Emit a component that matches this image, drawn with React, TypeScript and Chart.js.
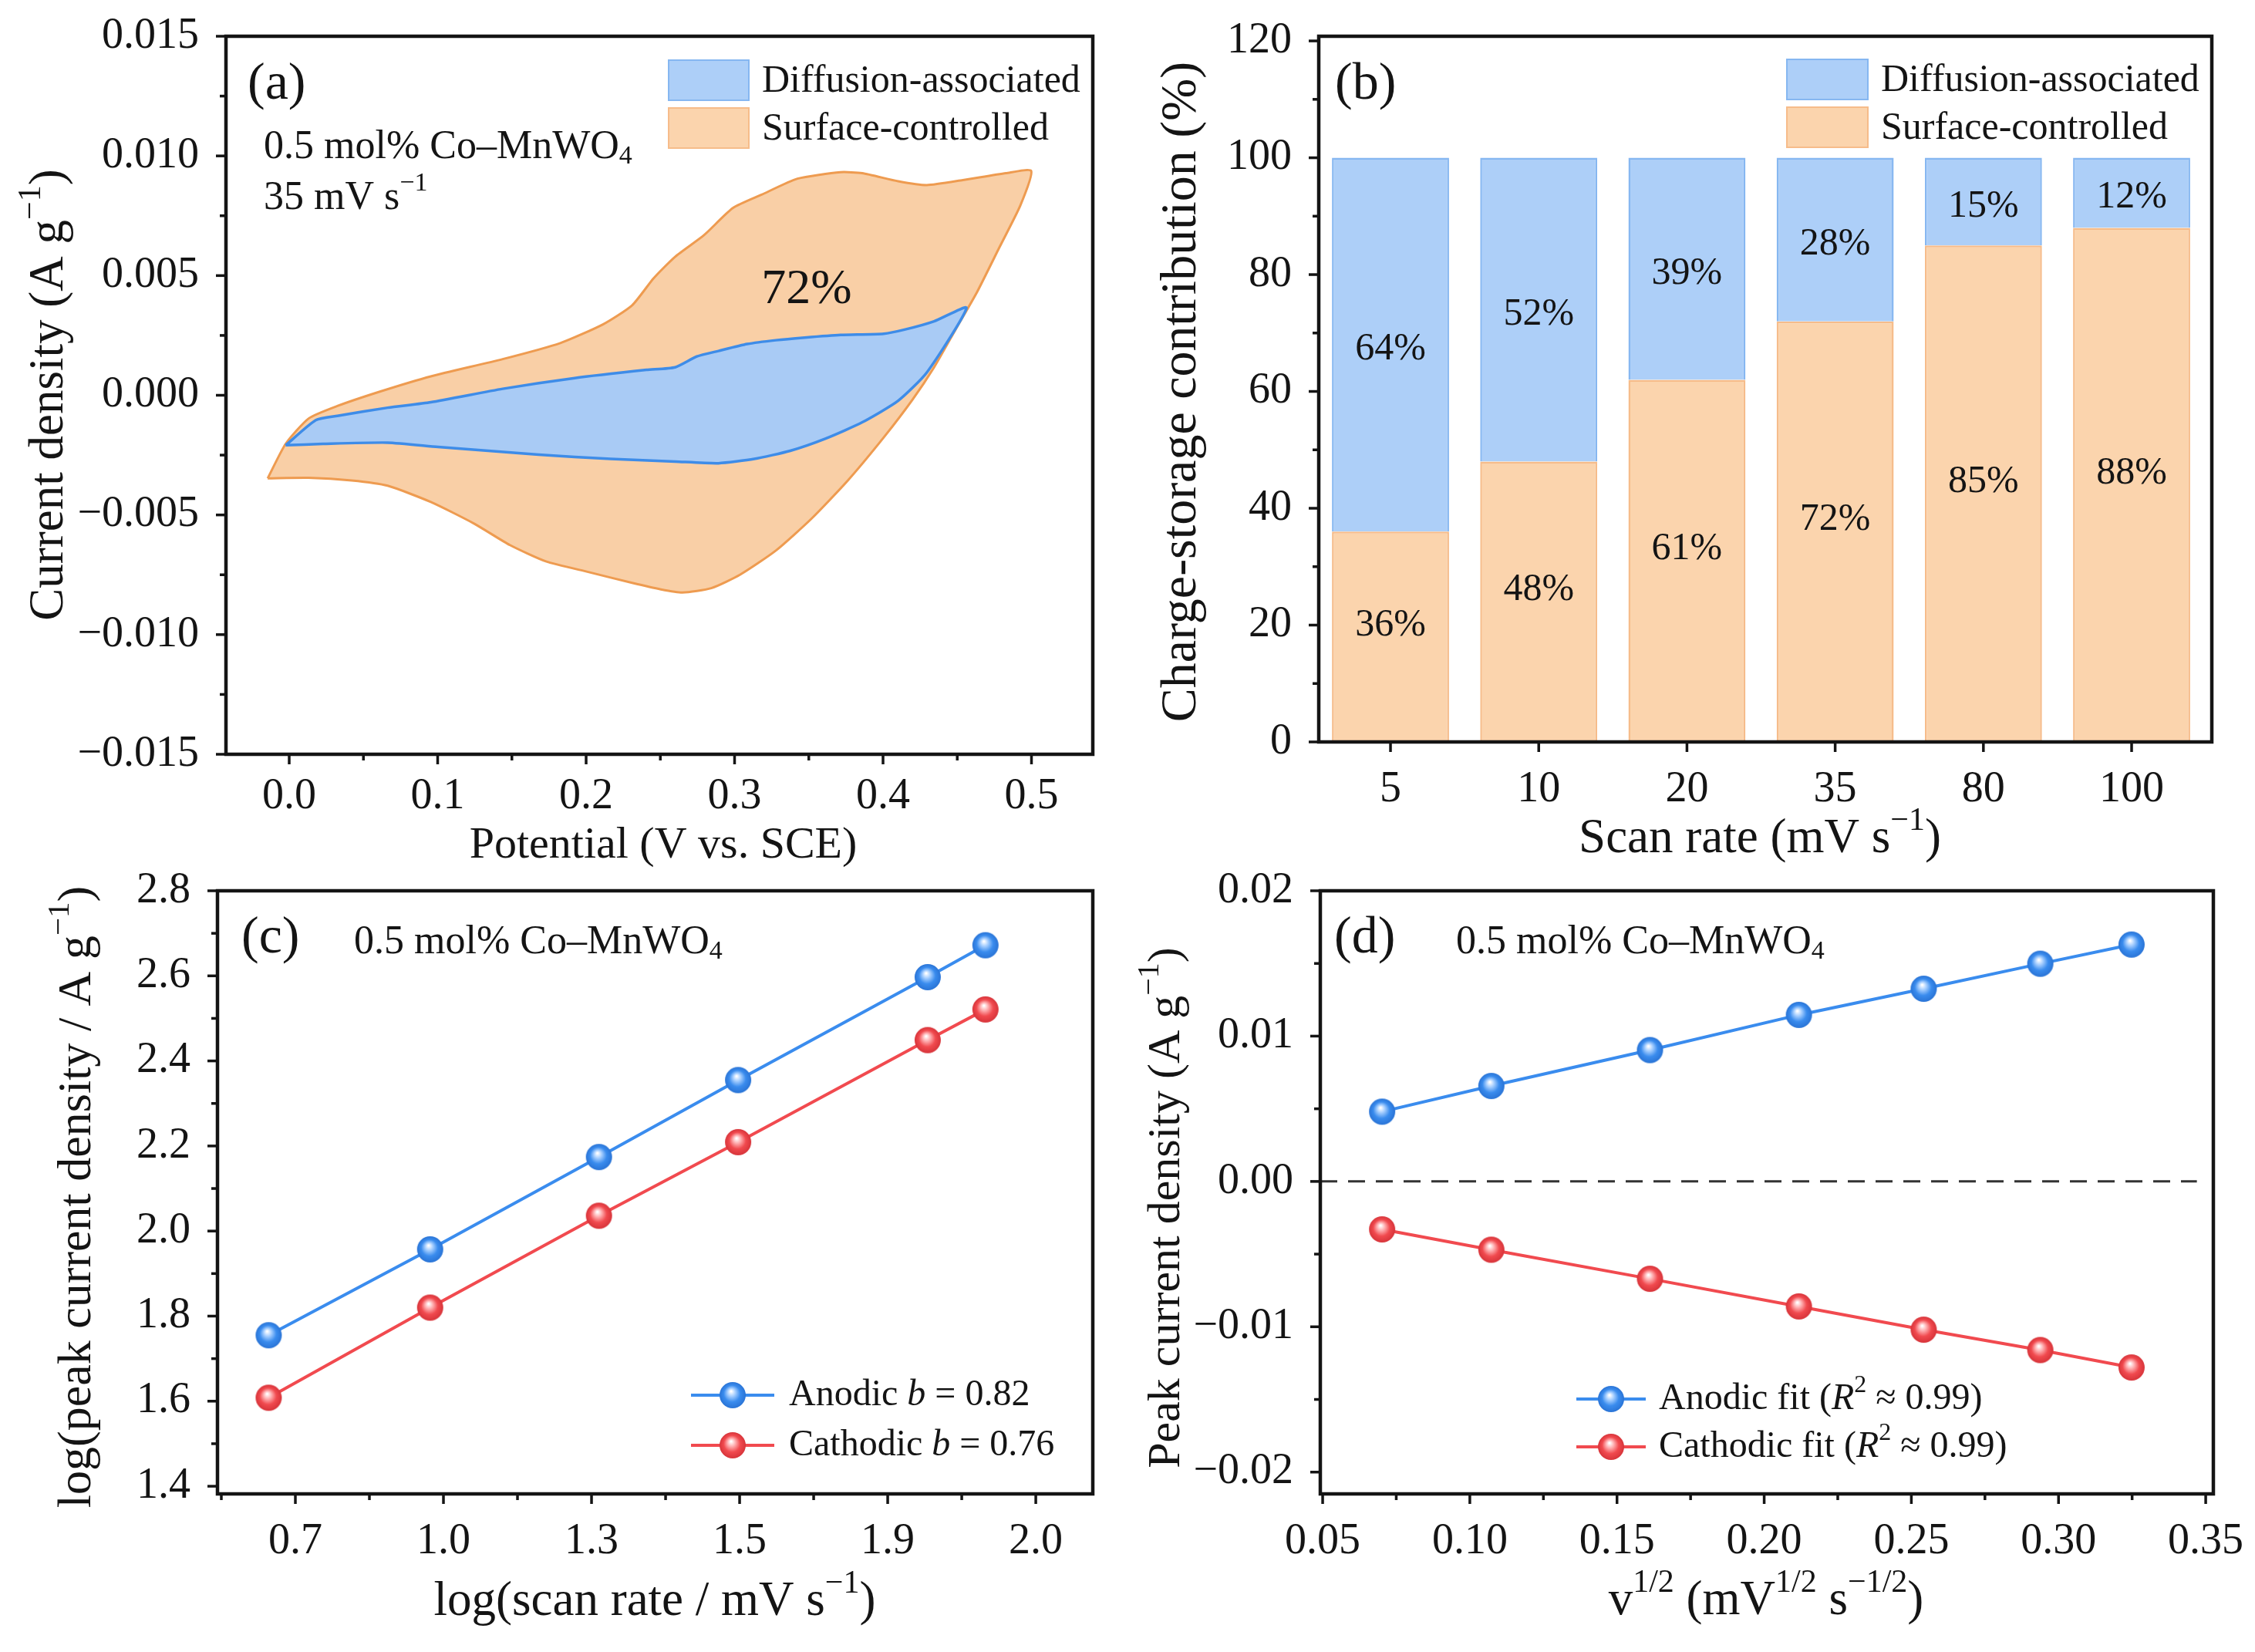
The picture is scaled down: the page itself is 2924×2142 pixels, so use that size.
import React, { useEffect, useRef } from "react";
import { Chart, registerables } from "chart.js";

Chart.register(...registerables);

const FONT = '"Liberation Serif", "Times New Roman", "DejaVu Serif", serif';
const INK = "#141414";

// ---------------- Panel (a): CV separation at 35 mV/s ----------------
const cvSurfaceV = [-0.0145, -0.0024, 0.0131, 0.0324, 0.0615, 0.0954, 0.1438, 0.1826, 0.2116, 0.231, 0.2455, 0.26, 0.2794, 0.2988, 0.3182, 0.3424, 0.3714, 0.386, 0.4102, 0.4295, 0.4538, 0.4828, 0.4998, 0.4925, 0.478, 0.4634, 0.4489, 0.4344, 0.4199, 0.4005, 0.3763, 0.3521, 0.3278, 0.3036, 0.2843, 0.2649, 0.2504, 0.231, 0.2019, 0.1729, 0.1487, 0.1245, 0.0954, 0.0663, 0.0421, 0.0131, -0.0145];
const cvSurfaceI = [-0.00347, -0.00203, -0.00097, -0.00045, 0.00016, 0.00079, 0.00151, 0.00218, 0.00297, 0.00376, 0.00489, 0.00579, 0.00669, 0.00782, 0.00838, 0.00905, 0.00932, 0.00928, 0.00894, 0.00878, 0.00899, 0.00928, 0.00937, 0.00793, 0.00613, 0.00432, 0.00275, 0.00117, -0.00018, -0.00176, -0.00356, -0.00514, -0.00649, -0.0075, -0.00806, -0.00824, -0.00811, -0.00784, -0.00739, -0.00694, -0.00626, -0.00536, -0.00446, -0.00378, -0.00356, -0.00345, -0.00347];
const cvDiffV = [-0.0024, 0.0179, 0.0324, 0.0663, 0.0954, 0.1438, 0.1923, 0.2407, 0.26, 0.2746, 0.2891, 0.3085, 0.3278, 0.3472, 0.3714, 0.4005, 0.415, 0.4344, 0.4562, 0.4295, 0.4102, 0.386, 0.3617, 0.3375, 0.3133, 0.2891, 0.26, 0.2165, 0.168, 0.1002, 0.0663, 0.0228, -0.0024];
const cvDiffI = [-0.00209, -0.00104, -0.00086, -0.00052, -0.00029, 0.00027, 0.00072, 0.00106, 0.00117, 0.00162, 0.00185, 0.00214, 0.0023, 0.00241, 0.00252, 0.00257, 0.00275, 0.00309, 0.00365, 0.00095, -0.00023, -0.00113, -0.0018, -0.00232, -0.00266, -0.00284, -0.00277, -0.00266, -0.00248, -0.00216, -0.00198, -0.00203, -0.00209];
const cvXTicks = [0, 0.1, 0.2, 0.3, 0.4, 0.5];
const cvXMinor = [0.05, 0.15, 0.25, 0.35, 0.45];
const cvYTicks = [-0.015, -0.01, -0.005, 0, 0.005, 0.01, 0.015];
const cvYMinor = [-0.0125, -0.0075, -0.0025, 0.0025, 0.0075, 0.0125];

// ---------------- Panel (b): contribution bars ----------------
const scanRates = ["5", "10", "20", "35", "80", "100"];
const surfacePct = [36, 48, 62, 72, 85, 88];
const diffusionPct = [64, 52, 38, 28, 15, 12];
const surfaceLabels = ["36%", "48%", "61%", "72%", "85%", "88%"];
const diffusionLabels = ["64%", "52%", "39%", "28%", "15%", "12%"];
const pctTicks = [0, 20, 40, 60, 80, 100, 120];
const pctMinor = [10, 30, 50, 70, 90, 110];

// ---------------- Panel (c): log–log b-value ----------------
const logRateTickLabels = ["0.7", "1.0", "1.3", "1.5", "1.9", "2.0"];
const logRateTickPos = [0, 1, 2, 3, 4, 5];
const logRateMinor = [-0.5, 0.5, 1.5, 2.5, 3.5, 4.5];
const logRatePos = [-0.18, 0.91, 2.05, 2.99, 4.27, 4.66];
const logAnodic = [1.755, 1.957, 2.174, 2.355, 2.597, 2.672];
const logCathodic = [1.608, 1.82, 2.036, 2.209, 2.449, 2.521];
const logYTicks = [1.4, 1.6, 1.8, 2.0, 2.2, 2.4, 2.6, 2.8];
const logYMinor = [1.5, 1.7, 1.9, 2.1, 2.3, 2.5, 2.7];

// ---------------- Panel (d): peak current vs v^1/2 ----------------
const sqrtRate = [0.0702, 0.1073, 0.1612, 0.2118, 0.2542, 0.2938, 0.3248];
const peakAnodic = [0.0048, 0.00657, 0.00904, 0.01146, 0.01326, 0.01498, 0.0163];
const peakCathodic = [-0.0033, -0.0047, -0.0067, -0.0086, -0.0102, -0.0116, -0.0128];
const sqrtTicks = [0.05, 0.1, 0.15, 0.2, 0.25, 0.3, 0.35];
const sqrtMinor = [0.075, 0.125, 0.175, 0.225, 0.275, 0.325];
const peakTicks = [-0.02, -0.01, 0, 0.01, 0.02];
const peakMinor = [-0.015, -0.005, 0.005, 0.015];
const ZERO_LINE_X = [0.0492, 0.347];

// ---------------- colours ----------------
const BLUE_FILL = "#A9CBF5";
const BLUE_EDGE = "#3E8CE8";
const ORANGE_FILL = "#F9CFA6";
const ORANGE_EDGE = "#EE9B50";
const BAR_BLUE = "#ADCFF8";
const BAR_BLUE_EDGE = "#86B7F1";
const BAR_ORANGE = "#FBD4AD";
const BAR_ORANGE_EDGE = "#F6BC8A";
const LINE_BLUE = "#3A8CEE";
const LINE_RED = "#F14A4F";

const TICK_SIZE = 56;
const TITLE_SIZE = 63;
const MAJOR = 13;
const MINOR = 8;

const minusFmt = (s: string) => s.replace("-", "\u2212");

// ---------- rich text ----------
type Seg = { t: string; k: string };
function parseRich(s: string): Seg[] {
  const out: Seg[] = [];
  const re = /([\^_*])\{([^}]*)\}/g;
  let last = 0;
  let m: RegExpExecArray | null;
  while ((m = re.exec(s))) {
    if (m.index > last) out.push({ t: s.slice(last, m.index), k: "n" });
    out.push({ t: m[2], k: m[1] === "^" ? "sup" : m[1] === "_" ? "sub" : "i" });
    last = re.lastIndex;
  }
  if (last < s.length) out.push({ t: s.slice(last), k: "n" });
  return out;
}
function drawRich(ctx: CanvasRenderingContext2D, s: string, x: number, y: number, size: number, align = "left", rot = 0) {
  const segs = parseRich(s);
  const fontFor = (k: string) =>
    k === "i" ? `italic ${size}px ${FONT}` : k === "sup" || k === "sub" ? `${Math.round(size * 0.66)}px ${FONT}` : `${size}px ${FONT}`;
  let w = 0;
  const widths = segs.map((g) => {
    ctx.font = fontFor(g.k);
    const mw = ctx.measureText(g.t).width;
    w += mw;
    return mw;
  });
  ctx.save();
  ctx.translate(x, y);
  if (rot) ctx.rotate(rot);
  let cx = align === "center" ? -w / 2 : align === "right" ? -w : 0;
  ctx.textBaseline = "middle";
  ctx.textAlign = "left";
  ctx.fillStyle = INK;
  segs.forEach((g, i) => {
    ctx.font = fontFor(g.k);
    const dy = g.k === "sup" ? -size * 0.36 : g.k === "sub" ? size * 0.24 : 0;
    ctx.fillText(g.t, cx, dy);
    cx += widths[i];
  });
  ctx.restore();
}

function makeBall(base: string, light: string, dark: string, r: number) {
  const c = document.createElement("canvas");
  const s = Math.ceil(r * 2 + 2);
  c.width = s;
  c.height = s;
  const g = c.getContext("2d")!;
  const cx = s / 2;
  const cy = s / 2;
  const grad = g.createRadialGradient(cx - r * 0.12, cy - r * 0.3, r * 0.04, cx, cy, r);
  grad.addColorStop(0, "#ffffff");
  grad.addColorStop(0.26, light);
  grad.addColorStop(0.62, base);
  grad.addColorStop(1, dark);
  g.fillStyle = grad;
  g.beginPath();
  g.arc(cx, cy, r, 0, Math.PI * 2);
  g.fill();
  return c;
}

// ---------- decoration plugin (config held in a closure): frame, ticks, texts, legend ----------
function makeDecor(o: any) {
  return {
    id: "decor",
    afterDatasetsDraw(chart: any) {
      const ctx: CanvasRenderingContext2D = chart.ctx;
      const { left, right, top, bottom } = chart.chartArea;
      ctx.save();
      if (o.barLabels) o.barLabels(chart, ctx);
      ctx.strokeStyle = INK;
      ctx.lineWidth = 4.5;
      ctx.strokeRect(left, top, right - left, bottom - top);
      const xs = chart.scales.x;
      const ys = chart.scales.y;
      ctx.lineWidth = 3.5;
      const seg = (x1: number, y1: number, x2: number, y2: number) => {
        ctx.beginPath();
        ctx.moveTo(x1, y1);
        ctx.lineTo(x2, y2);
        ctx.stroke();
      };
      xs.ticks.forEach((t: any) => {
        const p = xs.getPixelForValue(t.value);
        seg(p, bottom, p, bottom + MAJOR);
      });
      (o.minorX || []).forEach((v: number) => {
        const p = xs.getPixelForValue(v);
        seg(p, bottom, p, bottom + MINOR);
      });
      ys.ticks.forEach((t: any) => {
        const p = ys.getPixelForValue(t.value);
        seg(left, p, left - MAJOR, p);
      });
      (o.minorY || []).forEach((v: number) => {
        const p = ys.getPixelForValue(v);
        seg(left, p, left - MINOR, p);
      });
      (o.texts || []).forEach((t: any) => drawRich(ctx, t.s, t.x, t.y, t.size, t.align || "left", t.rot || 0));
      const lg = o.legend;
      if (lg) {
        lg.order.forEach((di: number, k: number) => {
          const ds = chart.data.datasets[di];
          const y = lg.ys[k];
          if (lg.type === "box") {
            ctx.fillStyle = lg.fills[k];
            ctx.fillRect(lg.x, y - lg.h / 2, lg.w, lg.h);
            ctx.strokeStyle = lg.edges[k];
            ctx.lineWidth = 2;
            ctx.strokeRect(lg.x, y - lg.h / 2, lg.w, lg.h);
          } else {
            ctx.strokeStyle = ds.borderColor;
            ctx.lineWidth = 4;
            seg(lg.x1, y, lg.x2, y);
            const img = ds.pointStyle as HTMLCanvasElement;
            const cx = (lg.x1 + lg.x2) / 2;
            ctx.drawImage(img, cx - img.width / 2, y - img.height / 2);
          }
          drawRich(ctx, ds.label, lg.textX, y + (lg.textDy || 0), lg.size, "left", 0);
        });
      }
      ctx.restore();
    },
  };
}

type AxisSpec = { min: number; max: number; ticks: number[]; fmt: (v: number) => string; padding: number; stacked?: boolean };

function axis(a: AxisSpec, isX: boolean, fit: number) {
  return {
    type: "linear",
    min: a.min,
    max: a.max,
    offset: false,
    stacked: a.stacked || false,
    grid: { display: false, drawTicks: false },
    border: { display: false },
    ticks: {
      autoSkip: false,
      maxRotation: 0,
      minRotation: 0,
      padding: a.padding,
      color: INK,
      font: { family: FONT, size: TICK_SIZE },
      callback: (v: number) => a.fmt(v),
    },
    afterBuildTicks: (s: any) => {
      s.ticks = a.ticks.map((v) => ({ value: v }));
    },
    afterFit: (s: any) => {
      if (isX) s.height = fit;
      else s.width = fit;
      s.paddingLeft = 0;
      s.paddingRight = 0;
      s.paddingTop = 0;
      s.paddingBottom = 0;
    },
  };
}

type Frame = { W: number; H: number; L: number; R: number; T: number; B: number };

function options(f: Frame, x: AxisSpec, y: AxisSpec) {
  return {
    responsive: false,
    maintainAspectRatio: false,
    devicePixelRatio: 1,
    animation: false,
    events: [],
    layout: { padding: { left: 0, top: f.T, right: f.W - f.R, bottom: 0 } },
    plugins: { legend: { display: false }, tooltip: { enabled: false } },
    scales: { x: axis(x, true, f.H - f.B), y: axis(y, false, f.L) },
  };
}

const W = 1462;
const H_TOP = 1140;
const H_BOT = 1071;

function buildA(): any {
  const f = { W, H: H_TOP, L: 293, R: 1417, T: 47, B: 978 };
  return {
    type: "scatter",
    data: {
      datasets: [
        {
          label: "Diffusion-associated",
          data: cvDiffV.map((v, i) => ({ x: v, y: cvDiffI[i] })),
          showLine: true,
          fill: "shape",
          backgroundColor: BLUE_FILL,
          borderColor: BLUE_EDGE,
          borderWidth: 3.5,
          pointRadius: 0,
          tension: 0.2,
        },
        {
          label: "Surface-controlled",
          data: cvSurfaceV.map((v, i) => ({ x: v, y: cvSurfaceI[i] })),
          showLine: true,
          fill: "shape",
          backgroundColor: ORANGE_FILL,
          borderColor: ORANGE_EDGE,
          borderWidth: 3,
          pointRadius: 0,
          tension: 0.2,
        },
      ],
    },
    options: options(
      f,
      { min: -0.0426, max: 0.5413, ticks: cvXTicks, fmt: (v) => v.toFixed(1), padding: 22 },
      { min: -0.015, max: 0.015, ticks: cvYTicks, fmt: (v) => minusFmt(v.toFixed(3)), padding: 35 }
    ),
    plugins: [
      makeDecor({
        minorX: cvXMinor,
        minorY: cvYMinor,
        texts: [
          { s: "(a)", x: 321, y: 110, size: 68 },
          { s: "0.5 mol% Co\u2013MnWO_{4}", x: 342, y: 191, size: 52 },
          { s: "35 mV s^{\u22121}", x: 342, y: 257, size: 52 },
          { s: "72%", x: 1046, y: 376, size: 64, align: "center" },
          { s: "Current density (A g^{\u22121})", x: 64, y: 512, size: TITLE_SIZE, align: "center", rot: -Math.PI / 2 },
          { s: "Potential (V vs. SCE)", x: 860, y: 1097, size: 58, align: "center" },
        ],
        legend: { type: "box", order: [0, 1], x: 867, w: 104, h: 52, ys: [104, 166], textDy: 2, textX: 988, size: 50, fills: [BAR_BLUE, BAR_ORANGE], edges: [BAR_BLUE_EDGE, BAR_ORANGE_EDGE] },
      }),
    ],
  };
}

function buildB(): any {
  const f = { W, H: H_TOP, L: 248, R: 1406, T: 47, B: 962 };
  const barLabels = (chart: any, ctx: CanvasRenderingContext2D) => {
    const xs = chart.scales.x;
    const ys = chart.scales.y;
    surfacePct.forEach((s, i) => {
      const px = xs.getPixelForValue(i);
      drawRich(ctx, surfaceLabels[i], px, ys.getPixelForValue(s / 2 + 2), 50, "center");
      drawRich(ctx, diffusionLabels[i], px, ys.getPixelForValue(s + diffusionPct[i] / 2 - 0.8), 50, "center");
    });
  };
  return {
    type: "bar",
    data: {
      datasets: [
        {
          label: "Surface-controlled",
          data: surfacePct.map((v, i) => ({ x: i, y: v })),
          backgroundColor: BAR_ORANGE,
          borderColor: BAR_ORANGE_EDGE,
          borderWidth: 2.5,
          barPercentage: 0.79,
          categoryPercentage: 1,
        },
        {
          label: "Diffusion-associated",
          data: diffusionPct.map((v, i) => ({ x: i, y: v })),
          backgroundColor: BAR_BLUE,
          borderColor: BAR_BLUE_EDGE,
          borderWidth: 2.5,
          barPercentage: 0.79,
          categoryPercentage: 1,
        },
      ],
    },
    options: options(
      f,
      { min: -0.484, max: 5.541, ticks: [0, 1, 2, 3, 4, 5], fmt: (v) => scanRates[Math.round(v)] ?? "", padding: 29, stacked: true },
      { min: 0, max: 120.8, ticks: pctTicks, fmt: (v) => String(v), padding: 35, stacked: true }
    ),
    plugins: [
      makeDecor({
        minorY: pctMinor,
        barLabels,
        texts: [
          { s: "(b)", x: 269, y: 110, size: 68 },
          { s: "Charge-storage contribution (%)", x: 71, y: 508, size: 66, align: "center", rot: -Math.PI / 2 },
          { s: "Scan rate (mV s^{\u22121})", x: 820, y: 1088, size: TITLE_SIZE, align: "center" },
        ],
        legend: { type: "box", order: [1, 0], x: 855, w: 105, h: 52, ys: [103, 165], textDy: 2, textX: 977, size: 50, fills: [BAR_BLUE, BAR_ORANGE], edges: [BAR_BLUE_EDGE, BAR_ORANGE_EDGE] },
      }),
    ],
  };
}

function lineDs(label: string, xs: number[], ys: number[], color: string, ball: HTMLCanvasElement) {
  return {
    label,
    data: xs.map((v, i) => ({ x: v, y: ys[i] })),
    showLine: true,
    borderColor: color,
    backgroundColor: color,
    borderWidth: 4,
    pointStyle: ball,
    pointRadius: 17,
    tension: 0,
  };
}

function buildC(): any {
  const f = { W, H: H_BOT, L: 282, R: 1417, T: 84, B: 866 };
  const blueBall = makeBall(LINE_BLUE, "#A9D0FF", "#2A74D6", 17);
  const redBall = makeBall(LINE_RED, "#FFB3B5", "#D7343A", 17);
  return {
    type: "scatter",
    data: {
      datasets: [
        lineDs("Anodic *{b} = 0.82", logRatePos, logAnodic, LINE_BLUE, blueBall),
        lineDs("Cathodic *{b} = 0.76", logRatePos, logCathodic, LINE_RED, redBall),
      ],
    },
    options: options(
      f,
      { min: -0.526, max: 5.385, ticks: logRateTickPos, fmt: (v) => logRateTickLabels[Math.round(v)] ?? "", padding: 29 },
      { min: 1.382, max: 2.8, ticks: logYTicks, fmt: (v) => v.toFixed(1), padding: 35 }
    ),
    plugins: [
      makeDecor({
        minorX: logRateMinor,
        minorY: logYMinor,
        texts: [
          { s: "(c)", x: 313, y: 146, size: 68 },
          { s: "0.5 mol% Co\u2013MnWO_{4}", x: 459, y: 151, size: 52 },
          { s: "log(peak current density / A g^{\u22121})", x: 101, y: 481, size: 62, align: "center", rot: -Math.PI / 2 },
          { s: "log(scan rate / mV s^{\u22121})", x: 849, y: 1006, size: TITLE_SIZE, align: "center" },
        ],
        legend: { type: "line", order: [0, 1], x1: 896, x2: 1004, ys: [738, 803], textX: 1023, size: 48 },
      }),
    ],
  };
}

function buildD(): any {
  const f = { W, H: H_BOT, L: 250, R: 1408, T: 84, B: 866 };
  const blueBall = makeBall(LINE_BLUE, "#A9D0FF", "#2A74D6", 17);
  const redBall = makeBall(LINE_RED, "#FFB3B5", "#D7343A", 17);
  return {
    type: "scatter",
    data: {
      datasets: [
        lineDs("Anodic fit (*{R}^{2} \u2248 0.99)", sqrtRate, peakAnodic, LINE_BLUE, blueBall),
        lineDs("Cathodic fit (*{R}^{2} \u2248 0.99)", sqrtRate, peakCathodic, LINE_RED, redBall),
        {
          label: "zero",
          data: ZERO_LINE_X.map((v) => ({ x: v, y: 0 })),
          showLine: true,
          borderColor: "#333333",
          borderWidth: 3,
          borderDash: [22, 14],
          pointRadius: 0,
        },
      ],
    },
    options: options(
      f,
      { min: 0.0492, max: 0.3526, ticks: sqrtTicks, fmt: (v) => v.toFixed(2), padding: 29 },
      { min: -0.0215, max: 0.02, ticks: peakTicks, fmt: (v) => minusFmt(v.toFixed(2)), padding: 35 }
    ),
    plugins: [
      makeDecor({
        minorX: sqrtMinor,
        minorY: peakMinor,
        texts: [
          { s: "(d)", x: 268, y: 146, size: 68 },
          { s: "0.5 mol% Co\u2013MnWO_{4}", x: 426, y: 151, size: 52 },
          { s: "Peak current density (A g^{\u22121})", x: 51, y: 495, size: 60, align: "center", rot: -Math.PI / 2 },
          { s: "v^{1/2} (mV^{1/2} s^{\u22121/2})", x: 828, y: 1005, size: TITLE_SIZE, align: "center" },
        ],
        legend: { type: "line", order: [0, 1], x1: 582, x2: 672, ys: [743, 805], textX: 689, size: 48 },
      }),
    ],
  };
}

function Panel({ left, top, h, build }: { left: number; top: number; h: number; build: () => any }) {
  const ref = useRef<HTMLCanvasElement>(null);
  useEffect(() => {
    const chart = new Chart(ref.current as HTMLCanvasElement, build());
    return () => chart.destroy();
  }, []);
  return <canvas ref={ref} width={W} height={h} style={{ position: "absolute", left, top, width: W, height: h }} />;
}

export default function App() {
  Chart.defaults.font.family = FONT;
  Chart.defaults.color = INK;
  return (
    <div style={{ position: "absolute", left: 0, top: 0, width: 2924, height: 2142, background: "#ffffff", overflow: "hidden" }}>
      <Panel left={0} top={0} h={H_TOP} build={buildA} />
      <Panel left={1462} top={0} h={H_TOP} build={buildB} />
      <Panel left={0} top={1071} h={H_BOT} build={buildC} />
      <Panel left={1462} top={1071} h={H_BOT} build={buildD} />
    </div>
  );
}
